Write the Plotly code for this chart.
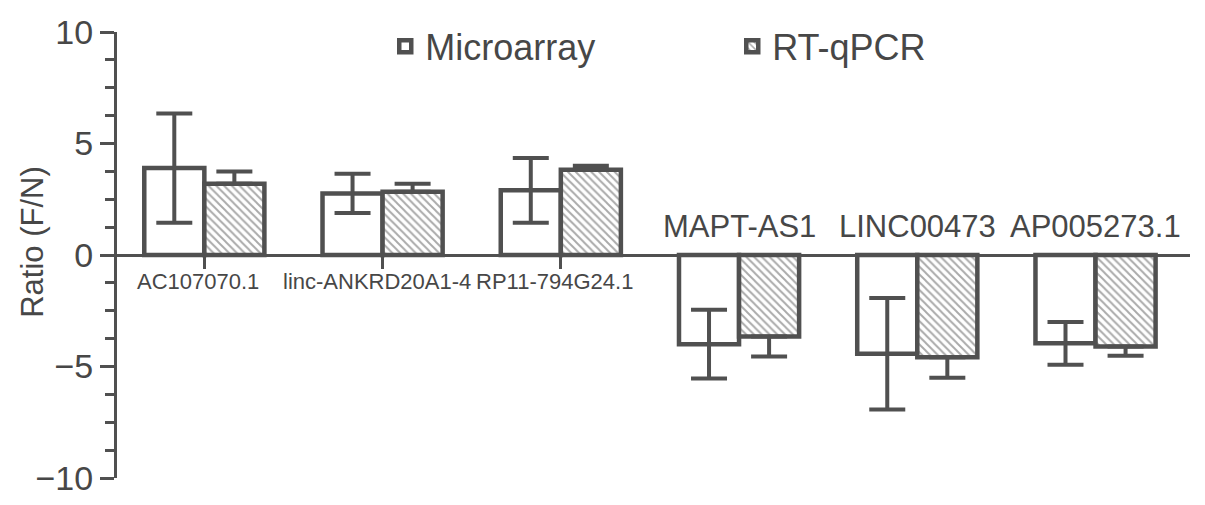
import plotly.graph_objects as go

genes = ["AC107070.1", "linc-ANKRD20A1-4", "RP11-794G24.1", "MAPT-AS1", "LINC00473", "AP005273.1"]
micro_vals = [3.9, 2.76, 2.9, -4.0, -4.43, -3.96]
micro_err = [2.45, 0.88, 1.45, 1.54, 2.5, 0.96]
rtq_vals = [3.2, 2.84, 3.82, -3.66, -4.58, -4.1]
rtq_err = [0.55, 0.36, 0.18, 0.89, 0.93, 0.42]
y_ticks = [-10, -5, 0, 5, 10]

LINE = "#505050"
TEXT = "#474747"
FONT = "Liberation Sans, Arial, sans-serif"

x = list(range(len(genes)))

rt_plus = [e if v > 0 else 0 for v, e in zip(rtq_vals, rtq_err)]
rt_minus = [e if v < 0 else 0 for v, e in zip(rtq_vals, rtq_err)]

fig = go.Figure()
fig.add_trace(go.Bar(
    x=x, y=micro_vals, name="Microarray",
    marker=dict(color="white", line=dict(color=LINE, width=4.5)),
    error_y=dict(type="data", array=micro_err, color=LINE, thickness=4, width=18, visible=True),
))
fig.add_trace(go.Bar(
    x=x, y=rtq_vals, name="RT-qPCR",
    marker=dict(color="white", line=dict(color=LINE, width=4.5),
                pattern=dict(shape="\\", fgcolor="#555555", bgcolor="white", size=5.5, solidity=0.35)),
    error_y=dict(type="data", symmetric=False, array=rt_plus, arrayminus=rt_minus,
                 color=LINE, thickness=4, width=18, visible=True),
))

annotations = []
for xi, g, mv, rv in zip(x, genes, micro_vals, rtq_vals):
    if mv > 0:
        annotations.append(dict(x=xi, y=0, xref="x", yref="y", text=g, showarrow=False,
                                xanchor="center", yanchor="middle", yshift=-26, xshift=-6,
                                font=dict(size=22, color=TEXT, family=FONT)))
    else:
        annotations.append(dict(x=xi, y=0, xref="x", yref="y", text=g, showarrow=False,
                                xanchor="center", yanchor="middle", yshift=29,
                                font=dict(size=31, color=TEXT, family=FONT)))
annotations.append(dict(x=-0.079, y=0.53, xref="paper", yref="paper", text="Ratio (F/N)",
                        textangle=-90, showarrow=False, xanchor="center", yanchor="middle",
                        font=dict(size=31, color=TEXT, family=FONT)))

fig.update_layout(
    width=1197, height=497,
    margin=dict(l=109, r=15, t=24, b=27, autoexpand=False),
    paper_bgcolor="white", plot_bgcolor="white",
    barmode="group", bargap=0.326, bargroupgap=0,
    font=dict(family=FONT, color=TEXT),
    showlegend=True,
    legend=dict(orientation="h", x=0.25, y=1.035, xanchor="left", yanchor="top",
                font=dict(size=36, color=TEXT, family=FONT),
                entrywidth=302, entrywidthmode="pixels",
                bgcolor="rgba(0,0,0,0)", traceorder="normal"),
    annotations=annotations,
    xaxis=dict(
        range=[-0.49, 5.53], tickvals=x, ticktext=["" for _ in x],
        showline=True, linecolor=LINE, linewidth=2.5,
        ticks="outside", ticklen=12, tickwidth=3, tickcolor=LINE,
        showgrid=False, zeroline=False, automargin=False,
        anchor="free", position=0.5,
    ),
    yaxis=dict(
        range=[-10, 10], tickvals=y_ticks,
        showline=True, linecolor=LINE, linewidth=3,
        ticks="outside", ticklen=14, tickwidth=3, tickcolor=LINE,
        minor=dict(dtick=1.25, ticks="outside", ticklen=9, tickwidth=3, tickcolor=LINE),
        tickfont=dict(size=34, color=TEXT, family=FONT),
        showgrid=False, zeroline=False, automargin=False,
    ),
)

fig.write_html("out.html")
